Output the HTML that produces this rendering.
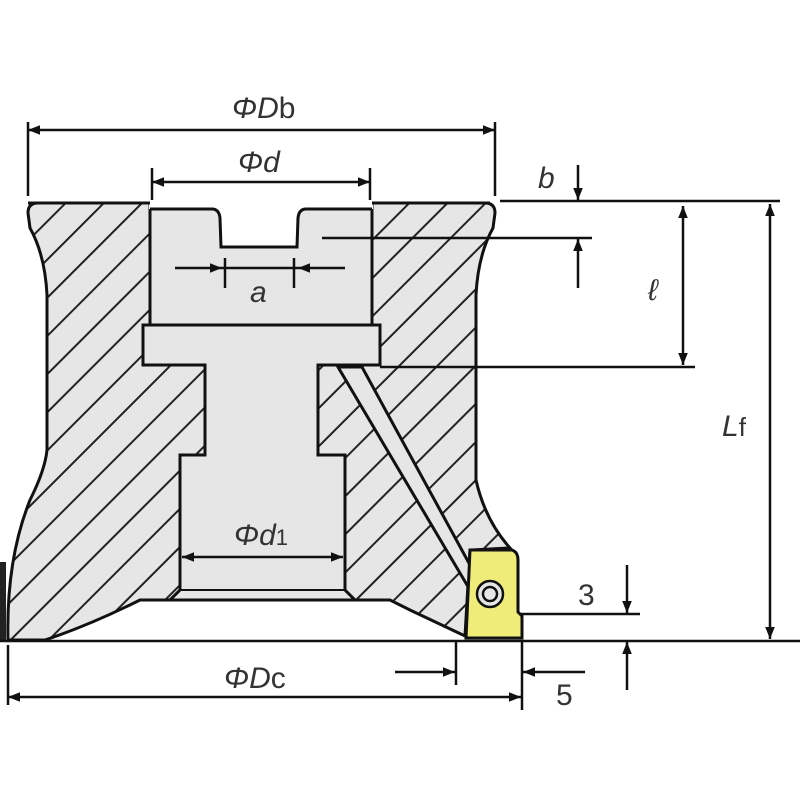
<!DOCTYPE html>
<html><head><meta charset="utf-8"><style>
html,body{margin:0;padding:0;background:#fff;}
svg{display:block;}
text{font-family:"Liberation Sans",sans-serif;fill:#333;}
</style></head><body>
<svg width="800" height="800" viewBox="0 0 800 800" xmlns="http://www.w3.org/2000/svg">
<defs>
<pattern id="h" patternUnits="userSpaceOnUse" width="27" height="27" patternTransform="rotate(45)">
<rect width="27" height="27" fill="#e6e6e6"/>
<line x1="0" y1="0" x2="0" y2="27" stroke="#222" stroke-width="4"/>
</pattern>
<marker id="a" viewBox="0 0 10 10" refX="10" refY="5" markerWidth="20" markerHeight="12" markerUnits="userSpaceOnUse" orient="auto-start-reverse">
<path d="M0,1 L10,5 L0,9 z" fill="#111"/>
</marker>
</defs>
<!-- body -->
<path d="M38,203 L485,203 Q495,203 495,213 L493,228 Q478,255 476,295 L476,480 Q485,520 510,548 L470,550 L465,636 L410,610 L390,600 L140,600 Q90,625 45,640 L8,640 Q6,560 30,500 Q45,470 47,450 L47,295 Q45,255 30,228 L28,213 Q28,203 38,203 Z" fill="url(#h)" stroke="#111" stroke-width="3"/>
<!-- bore -->
<path d="M150,205 L372,205 L372,325 L380,325 L380,365 L318,365 L318,455 L345,455 L345,590 L355,600 L170,600 L180,590 L180,455 L205,455 L205,365 L143,365 L143,325 L150,325 Z" fill="#e6e6e6" stroke="#111" stroke-width="3"/>
<!-- white top notch -->
<path d="M149,200 L373,200 L373,209 L306,209 Q299,209 298,218 L297,247 L221,247 L220,218 Q219,209 212,209 L149,209 Z" fill="#fff"/>
<path d="M150,209 L212,209 Q219,209 220,218 L221,247 L297,247 L298,218 Q299,209 306,209 L372,209" fill="none" stroke="#111" stroke-width="3"/>
<line x1="28" y1="203" x2="150" y2="203" stroke="#111" stroke-width="3"/>
<line x1="372" y1="203" x2="490" y2="203" stroke="#111" stroke-width="3"/>
<line x1="143" y1="325" x2="380" y2="325" stroke="#111" stroke-width="3"/>
<line x1="180" y1="590" x2="345" y2="590" stroke="#111" stroke-width="2"/>
<!-- coolant hole -->
<path d="M338,367 L362,367 L470,565 L470,590 Z" fill="#e6e6e6" stroke="#111" stroke-width="3"/>
<!-- insert -->
<path d="M470,550 L512,550 Q518,552 518,560 L518,612 L522,616 L522,638 L466,638 Z" fill="#f0ec7a" stroke="#111" stroke-width="3"/>
<circle cx="490" cy="594" r="13" fill="#e6e6e6" stroke="#111" stroke-width="2.5"/>
<circle cx="490" cy="594" r="7" fill="#e6e6e6" stroke="#111" stroke-width="2.5"/>
<rect x="0" y="562" width="6" height="78" fill="#222"/>
<!-- lines -->
<g stroke="#111" stroke-width="2.5" fill="none">
<line x1="0" y1="641" x2="800" y2="641"/>
<line x1="28" y1="122" x2="28" y2="196"/>
<line x1="495" y1="122" x2="495" y2="196"/>
<line x1="28" y1="130" x2="495" y2="130" marker-start="url(#a)" marker-end="url(#a)"/>
<line x1="152" y1="168" x2="152" y2="200"/>
<line x1="370" y1="168" x2="370" y2="200"/>
<line x1="152" y1="182" x2="370" y2="182" marker-start="url(#a)" marker-end="url(#a)"/>
<line x1="175" y1="268" x2="222" y2="268" marker-end="url(#a)"/>
<line x1="345" y1="268" x2="298" y2="268" marker-end="url(#a)"/>
<line x1="222" y1="268" x2="298" y2="268"/>
<line x1="225" y1="258" x2="225" y2="288"/>
<line x1="294" y1="258" x2="294" y2="288"/>
<line x1="182" y1="557" x2="343" y2="557" marker-start="url(#a)" marker-end="url(#a)"/>
<line x1="500" y1="201" x2="780" y2="201"/>
<line x1="322" y1="238" x2="592" y2="238"/>
<line x1="380" y1="367" x2="695" y2="367"/>
<line x1="578" y1="165" x2="578" y2="200" marker-end="url(#a)"/>
<line x1="578" y1="288" x2="578" y2="239" marker-end="url(#a)"/>
<line x1="683" y1="206" x2="683" y2="365" marker-start="url(#a)" marker-end="url(#a)"/>
<line x1="770" y1="204" x2="770" y2="639" marker-start="url(#a)" marker-end="url(#a)"/>
<line x1="520" y1="614" x2="640" y2="614"/>
<line x1="627" y1="565" x2="627" y2="613" marker-end="url(#a)"/>
<line x1="627" y1="690" x2="627" y2="642" marker-end="url(#a)"/>
<line x1="8" y1="645" x2="8" y2="705"/>
<line x1="522" y1="641" x2="522" y2="710"/>
<line x1="456" y1="641" x2="456" y2="685"/>
<line x1="8" y1="697" x2="521" y2="697" marker-start="url(#a)" marker-end="url(#a)"/>
<line x1="395" y1="672" x2="455" y2="672" marker-end="url(#a)"/>
<line x1="585" y1="672" x2="523" y2="672" marker-end="url(#a)"/>
</g>
<!-- labels -->
<text x="232" y="118" font-size="30" font-style="italic">ΦD<tspan font-style="normal">b</tspan></text>
<text x="238" y="172" font-size="30" font-style="italic">Φd</text>
<text x="250" y="302" font-size="30" font-style="italic">a</text>
<text x="538" y="188" font-size="30" font-style="italic">b</text>
<text x="648" y="300" font-size="30" font-style="italic">ℓ</text>
<text x="722" y="436" font-size="30" font-style="italic">L<tspan font-style="normal" font-size="26">f</tspan></text>
<text x="234" y="545" font-size="30" font-style="italic">Φd<tspan font-style="normal" font-size="22">1</tspan></text>
<text x="578" y="605" font-size="30">3</text>
<text x="224" y="688" font-size="30" font-style="italic">ΦD<tspan font-style="normal">c</tspan></text>
<text x="556" y="705" font-size="30">5</text>
</svg>
</body></html>
